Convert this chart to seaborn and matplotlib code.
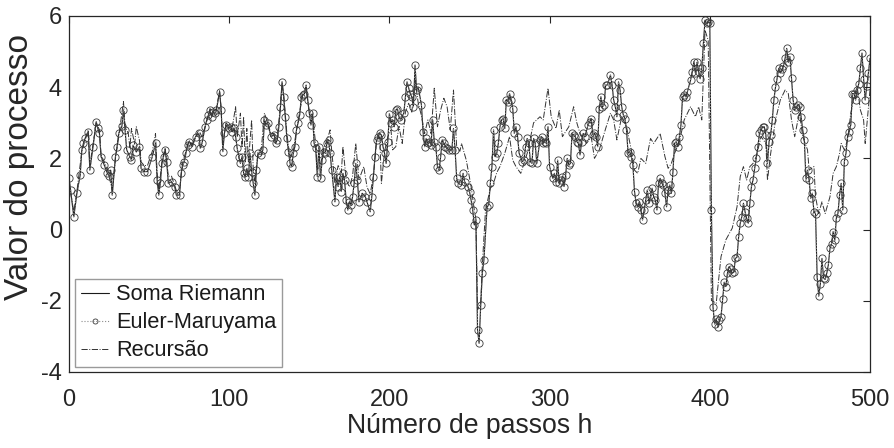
import matplotlib
matplotlib.use("Agg")
import matplotlib.pyplot as plt
import seaborn as sns
import pandas as pd

# ---------------- data ----------------
# Soma Riemann / Euler-Maruyama (the two coincide in the picture)
steps_a = [0,1,3,5,7,8,9,10,12,13, 15,17,18,19,20,22,24,25,26,27, 29,30,31,33,34,35,36,38,39,40,
           42,44,45,47,49,52,54,55,56,57, 58,59,60,61,62,64,66,67,69,70, 71,72,73,74,75,77,79,81,82,83,
           85,86,87,88,89,90,91,92,94,95, 96,97,98]
vals_a = [1.45,1.11,0.36,1.04,1.53,2.24,2.42,2.56,2.75,1.67, 2.33,3.03,2.84,2.70,2.05,1.81,1.58,1.50,1.67,0.97,
          2.05,2.33,2.70,2.90,3.36,2.80,2.24,2.05,1.95,2.37, 2.18,2.33,1.72,1.63,1.63,2.05,2.42,1.40,0.97,1.30,
          1.86,2.05,2.24,1.90,1.30,1.34,1.21,0.97,0.97,1.58, 1.81,1.91,2.14,2.38,2.47,2.33,2.61,2.70,2.28,2.42,
          2.89,3.08,3.22,3.36,3.17,3.31,3.27,3.36,3.87,3.36, 2.19,2.70,2.94]

steps_b = [100,101,102,103,104,105,106,107,108,109, 110,111,112,113,114,115,116,117,118,120,
           121,122,123,124,126,128,129,130,131,132, 133,134,135,136,137,138,139,140,141,142,
           143,144,145,146,147,148,149,150,151,152, 153,154,155,156,157,158,159,160,161,162,
           163,164,166,167,168,169,170,171,172,173, 174,175,176,177,178,179,180,181,183,185,
           186,188,189,190,191,192,193,194,195,196, 197,198,199]
vals_b = [2.84,2.89,2.75,2.84,2.61,2.28,2.05,1.86,2.05,1.58, 1.49,1.72,1.49,2.14,1.63,1.30,0.97,1.67,2.14,2.10,
          2.24,3.08,2.94,3.00,2.61,2.66,2.42,2.52,2.89,3.45, 4.15,3.73,3.17,2.56,2.19,1.86,1.77,2.14,2.33,2.80,
          3.00,3.22,3.73,3.78,3.82,4.06,3.64,3.27,2.94,3.27, 2.42,2.28,1.49,2.33,1.44,1.95,2.19,2.14,2.42,2.52,
          2.14,1.67,0.78,1.49,1.21,1.49,1.07,1.58,1.39,0.83, 0.55,0.78,0.69,0.92,1.30,1.86,1.39,0.78,1.02,0.92,
          0.78,0.50,0.92,1.49,2.05,2.52,2.61,2.70,2.66,2.33, 2.14,1.86,2.47]

steps_c = [200,201,202,203,204,205,206,207,209,210, 211,212,213,214,215,216,217,218,220,221,
           222,223,224,225,226,227,228,229,230,231, 232,233,234,235,236,237,239,240,241,242,
           243,245,246,247,249,250,251,252,253,254, 255,256,257,258,259,261,262,263,264,265,
           266,267,268,269,270,271,272,273,274,275, 276,277,278,279,280,281,283,284,285,286,
           287,288,289,290,291,292,294,295,296,297, 298,299]
vals_c = [3.26,3.00,3.08,2.89,3.36,3.40,3.17,3.08,3.27,3.73, 4.15,3.98,3.82,3.73,3.45,4.62,3.92,4.00,3.50,2.75,
          2.33,2.56,2.42,2.47,2.38,3.08,2.47,2.33,1.77,1.67, 2.05,2.52,2.42,2.33,2.28,2.24,2.24,2.84,2.24,1.44,
          1.30,1.25,1.58,1.34,1.21,1.07,0.83,0.55,0.13,0.27, -2.82,-3.19,-2.12,-1.23,-0.85,0.64,0.69,1.30,1.77,2.80,
          2.05,2.14,2.42,2.89,3.08,3.12,2.84,3.64,3.59,3.82, 3.64,3.40,2.70,2.89,2.61,2.14,1.91,1.95,2.33,2.56,
          2.42,1.91,1.86,2.56,2.42,1.86,2.52,2.61,2.42,2.47, 2.42,2.89]

steps_d = [300,302,303,304,305,306,307,308,309,310, 311,312,313,314,315,316,317,318,319,320,
           321,322,324,325,326,327,328,329,330,331, 332,333,334,335,336,338,339,340,341,342,
           343,344,345,346,347,348,349,350,351,352, 353,354,355,356,357,358,359,360,361,362,
           364,365,366,367,368,369,370,371,372,373, 374,375,376,377,378,379,380,381,382,383,
           384,385,386,388,389,390,391,392,393,394, 395,396,397,398,399]
vals_d = [1.77,1.44,1.58,1.34,1.95,1.30,1.39,1.49,1.21,1.53, 2.00,1.81,1.86,2.70,2.66,2.61,2.47,2.42,2.10,2.47,
          2.70,2.61,2.94,3.03,3.12,2.66,2.70,2.61,2.33,3.40, 3.73,3.45,3.50,4.06,4.06,4.34,4.06,3.64,3.45,3.17,
          4.15,3.92,3.45,3.22,3.12,2.80,2.14,2.19,2.05,1.81, 1.07,0.74,0.64,0.78,0.55,0.27,0.55,0.83,1.11,0.74,
          1.16,0.92,0.83,0.55,1.30,1.44,1.30,1.25,1.02,0.64, 1.11,1.25,1.02,1.63,2.42,2.47,2.33,2.61,2.94,3.73,
          3.78,3.73,3.87,4.20,4.43,4.71,4.40,4.70,4.43,4.24, 4.53,5.23,5.88,5.80,5.84]

steps_e = list(range(400, 501))
vals_e = [5.80,0.55,-2.17,-2.65,-2.50,-2.74,-2.55,-2.45,-1.96,-1.48, -1.60,-1.23,-1.05,-1.10,-1.23,-1.18,-0.81,-0.77,-0.20,0.18,
          0.36,0.74,0.50,0.32,0.18,0.74,1.21,1.40,1.72,2.00, 2.33,2.70,2.80,2.89,2.89,2.66,1.86,2.47,2.66,3.08,
          3.64,4.00,4.24,4.53,4.40,4.50,4.60,4.81,5.09,4.70, 4.86,4.25,3.64,3.36,3.45,3.50,3.45,3.17,2.80,2.52,
          1.44,1.67,1.39,0.88,1.02,0.50,0.45,-1.32,-1.87,-1.53, -0.81,-1.36,-1.40,-1.23,-0.99,-0.53,-0.40,-0.06,-0.30,0.33,
          0.46,0.97,1.30,0.55,1.91,2.14,2.61,2.75,2.94,3.82, 3.82,3.64,3.92,4.10,4.53,4.96,4.24,3.64,4.02,4.40,
          4.81]

# Recursão
rec_steps = [0,3,5,8,10,12,13,15,17,19, 20,22,24,27,29,31,34,35,37,38, 39,41,42,44,45,47,49,52,54,55,
             56,58,60,62,64,67,69,71,73,75, 77,79,81,83,85,87,88,90,92,94, 95,96,98,100,102,104,105,107,108,109,
             110,111,112,114,115,116,118,120,122,124, 126,128,130,132,133,134,136,138,140,142,
             144,146,148,150,152,154,155,157,159,161, 163,164,166,168,170,171,173,175,177,179,
             181,184,186,188,190,192,194,195,197,199, 201,202,204,206,208,210,212,214,216,218,
             220,222,224,226,228,230,232,234,236,238, 240,242,244,245,248,251,253,254,255,257,
             258,260,263,265,267,269,272,275,277,279, 282,286,290,294,296,299,301,304,306,308,
             312,315,317,319,322,323,326,328,331,335, 338,340,342,345,348,351,353,355,357,360,
             363,365,369,372,374,376,378,381,384,388, 391,393,395,397,399,401,404,407,410,414,
             417,419,421,423,425,427,429,432,435,436, 438,441,444,447,449,451,453,455,456,458,
             461,462,465,466,468,470,472,475,477,479, 481,482,484,486,488,490,492,494,496,497,
             500]
rec_vals = [1.3,0.5,1.1,2.2,2.5,2.8,1.8,2.4,3.0,2.8, 2.1,1.9,1.7,1.1,2.0,2.6,3.6,2.9,2.7,2.3,
            2.84,2.4,2.89,2.5,1.9,1.8,1.8,2.2,2.7,1.6, 1.1,1.9,2.3,1.5,1.5,1.1,1.1,1.9,2.2,2.5,
            2.4,2.6,2.8,2.6,2.9,3.2,3.4,3.3,3.4,3.9, 3.4,2.4,3.0,2.9,2.9,3.45,2.6,3.27,2.3,3.17,
            1.9,2.84,1.9,3.08,1.7,1.3,2.2,2.24,3.27,3.0, 2.7,2.7,2.6,3.5,4.1,3.8,2.7,2.0,2.2,2.8,
            3.3,3.8,4.0,3.3,3.2,2.4,1.7,1.8,2.3,2.5, 2.8,2.2,1.3,1.8,1.6,2.33,1.4,1.2,1.5,2.42,
            1.4,1.77,1.2,1.0,1.5,2.5,2.6,1.3,2.2,2.61, 2.8,2.24,2.33,2.9,2.42,3.3,3.55,3.3,4.2,3.55,
            3.2,2.7,3.08,2.7,3.97,2.89,3.36,3.69,3.45,2.8, 3.92,2.33,2.2,2.42,1.95,1.21,0.55,0.3,-2.26,-2.07,
            -1.0,0.55,1.16,1.30,1.6,1.77,2.14,2.61,1.95,1.77, 1.58,2.14,3.0,3.17,3.08,3.97,3.17,2.84,3.36,2.61,
            2.89,3.45,3.0,2.7,2.52,2.42,2.6,2.0,2.24,2.84, 3.27,3.08,2.52,3.17,2.89,2.24,1.67,1.58,2.0,1.86,
            2.56,2.42,2.70,2.05,1.72,1.86,2.14,2.47,3.08,3.45, 3.17,3.45,3.08,5.6,5.32,-1.99,-2.07,-0.76,-0.29,0.04,
            0.64,1.49,1.77,1.39,1.77,1.86,2.05,2.61,2.42,1.39, 2.14,3.08,3.64,3.92,3.82,3.08,2.61,3.08,3.27,2.61,
            2.24,1.67,1.77,0.92,0.45,0.78,0.45,0.92,1.58,1.77, 2.14,2.42,2.24,2.52,3.27,3.73,4.02,3.36,3.08,2.42,
            3.92]

x_ticks = [0, 100, 200, 300, 400, 500]
y_ticks = [-4, -2, 0, 2, 4, 6]
labels = ["Soma Riemann", "Euler-Maruyama", "Recursão"]
xlabel = "Número de passos h"
ylabel = "Valor do processo"

# ---------------- build tables ----------------
path_steps = steps_a + steps_b + steps_c + steps_d + steps_e
path_vals = vals_a + vals_b + vals_c + vals_d + vals_e
df_path = pd.DataFrame({"h": path_steps, "v": path_vals})
df_rec = pd.DataFrame({"h": rec_steps, "v": rec_vals})

# ---------------- style ----------------
sns.set_style("white")
plt.rcParams["font.family"] = ["Liberation Sans", "DejaVu Sans"]
plt.rcParams["axes.unicode_minus"] = False
axc = "#262626"

fig = plt.figure(figsize=(8.94, 4.48), dpi=100)
ax = fig.add_axes([69 / 894, (448 - 372) / 448, 801 / 894, 356 / 448])

sns.lineplot(data=df_path, x="h", y="v", ax=ax, estimator=None, sort=False,
             color="#1a1a1a", linewidth=0.8, linestyle="-", label=labels[0])
sns.lineplot(data=df_path, x="h", y="v", ax=ax, estimator=None, sort=False,
             color="#8c8c8c", linewidth=0.8, linestyle=":", marker="o", markersize=5.2,
             markerfacecolor="none", markeredgecolor="#3a3a3a", markeredgewidth=0.6,
             label=labels[1])
sns.lineplot(data=df_rec, x="h", y="v", ax=ax, estimator=None, sort=False,
             color="#333333", linewidth=0.7, linestyle="-.", label=labels[2])

ax.set_xlim(0, 500)
ax.set_ylim(-4, 6)
ax.set_xticks(x_ticks)
ax.set_yticks(y_ticks)
ax.set_xlabel(xlabel, fontsize=19.2, color=axc, labelpad=2)
ax.set_ylabel(ylabel, fontsize=24, color=axc)
ax.yaxis.set_label_coords(-0.043, 0.575)
ax.tick_params(axis="both", which="both", direction="in", length=5, width=0.8,
               labelsize=17, colors=axc, top=True, right=True)
ax.tick_params(axis="x", pad=12)
ax.tick_params(axis="y", pad=5)
for s in ax.spines.values():
    s.set_visible(True)
    s.set_color(axc)
    s.set_linewidth(0.9)
ax.grid(False)

leg = ax.legend(loc="lower left", bbox_to_anchor=(0.0075, 0.014), fontsize=15.7,
                frameon=True, fancybox=False, edgecolor="#9a9a9a", framealpha=1,
                handlelength=1.3, handletextpad=0.32, borderpad=0.26, labelspacing=0.32,
                borderaxespad=0.0, markerscale=0.7)
leg.get_frame().set_linewidth(1.0)
for t in leg.get_texts():
    t.set_color("#1a1a1a")

fig.savefig("out.png", dpi=100)
